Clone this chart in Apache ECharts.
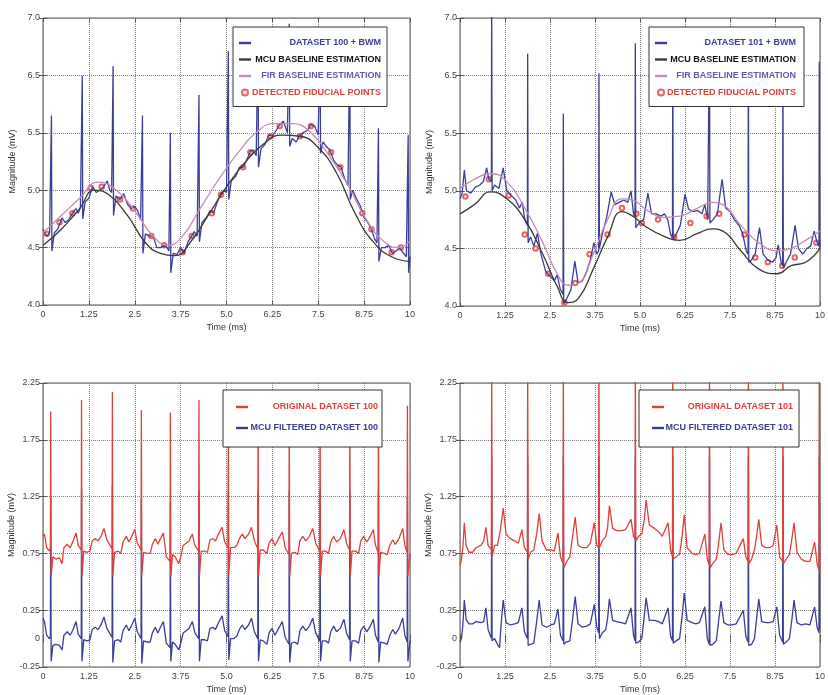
<!DOCTYPE html>
<html>
<head>
<meta charset="utf-8">
<script src="https://cdn.jsdelivr.net/npm/echarts@6/dist/echarts.min.js"></script>
<style>
  html, body { margin: 0; padding: 0; background: #fff; }
  #chart { width: 828px; height: 695px; }
</style>
</head>
<body>
<div id="chart"></div>
<script>
// tick labels
const X_LABELS = ['0', '1.25', '2.5', '3.75', '5.0', '6.25', '7.5', '8.75', '10']
// top plots: printed labels skip 6.0 (as in the figure)
const TOP_Y_LABELS = ['4.0', '4.5', '5.0', '5.5', '6.5', '7.0']
const BOTTOM_Y_LABELS = ['-0.25', '0.25', '0.75', '1.25', '1.75', '2.25']

/// dataset 100 + BWM (top left) ///
const TL_SIGNAL = [
  [0,4.66],[0.06,4.62],[0.12,4.6],[0.18,4.63],[0.222,4.63],
  [0.23,5.65],[0.242,4.47],[0.31,4.63],[0.4,4.66],[0.52,4.76],[0.6,4.72],[0.7,4.74],[0.8,4.8],[0.9,4.84],[0.96,4.8],[1.02,4.85],[1.062,4.85],
  [1.07,6.0],[1.082,4.75],[1.15,4.9],[1.25,4.93],[1.35,5.03],[1.45,4.98],[1.55,5.0],[1.65,5.03],[1.75,5.08],[1.82,5.0],[1.87,4.98],[1.902,4.98],
  [1.91,6.08],[1.922,4.78],[1.99,4.95],[2.1,4.92],[2.2,4.97],[2.3,4.88],[2.4,4.84],[2.5,4.86],[2.58,4.82],[2.66,4.74],[2.702,4.74],
  [2.71,5.65],[2.722,4.45],[2.79,4.62],[2.9,4.6],[3.0,4.6],[3.1,4.5],[3.2,4.5],[3.3,4.52],[3.38,4.5],[3.43,4.47],[3.462,4.47],
  [3.47,5.5],[3.482,4.28],[3.55,4.45],[3.65,4.44],[3.75,4.5],[3.85,4.45],[3.95,4.55],[4.05,4.6],[4.12,4.64],[4.2,4.6],[4.242,4.6],
  [4.25,5.83],[4.262,4.55],[4.33,4.72],[4.45,4.76],[4.55,4.82],[4.65,4.8],[4.75,4.9],[4.85,4.97],[4.93,5.0],[5.0,4.98],[5.042,4.98],
  [5.05,6.21],[5.062,4.92],[5.13,5.08],[5.25,5.12],[5.35,5.2],[5.45,5.2],[5.55,5.26],[5.65,5.34],[5.73,5.35],[5.81,5.3],[5.852,5.3],
  [5.86,6.38],[5.872,5.2],[5.94,5.36],[6.05,5.4],[6.15,5.48],[6.25,5.47],[6.35,5.52],[6.45,5.57],[6.55,5.6],[6.66,5.5],[6.702,5.5],
  [6.71,6.45],[6.722,5.38],[6.79,5.45],[6.9,5.42],[6.98,5.47],[7.08,5.5],[7.2,5.52],[7.3,5.57],[7.4,5.56],[7.5,5.48],[7.542,5.48],
  [7.55,6.4],[7.562,5.32],[7.63,5.42],[7.72,5.38],[7.82,5.35],[7.92,5.26],[8.02,5.22],[8.12,5.2],[8.22,5.1],[8.31,5.04],[8.352,5.04],
  [8.36,6.3],[8.372,4.92],[8.44,5.0],[8.55,4.92],[8.65,4.86],[8.75,4.76],[8.85,4.72],[8.95,4.66],[9.03,4.58],[9.1,4.54],[9.132,4.54],
  [9.14,5.54],[9.152,4.38],[9.22,4.5],[9.32,4.5],[9.42,4.52],[9.52,4.45],[9.62,4.47],[9.72,4.5],[9.8,4.46],[9.9,4.42],[9.942,4.42],
  [9.95,5.48],[9.962,4.28],[10,4.42]
]
const TL_MCU = [
  [0,4.52],[0.5,4.66],[1.0,4.84],[1.4,5.0],[1.8,4.96],[2.3,4.78],[2.8,4.54],[3.2,4.45],[3.6,4.43],[4.0,4.54],[4.5,4.78],
  [5.0,5.03],[5.5,5.24],[6.0,5.4],[6.5,5.48],[7.0,5.47],[7.5,5.37],[8.0,5.15],[8.5,4.8],[9.0,4.55],[9.5,4.42],[10,4.38]
]
const TL_FIR = [
  [0,4.63],[0.5,4.78],[1.0,4.93],[1.5,5.07],[2.0,5.0],[2.5,4.82],[3.0,4.6],[3.4,4.52],[3.8,4.6],[4.3,4.85],[4.8,5.1],
  [5.3,5.32],[5.8,5.5],[6.3,5.58],[6.8,5.58],[7.3,5.5],[7.8,5.3],[8.3,5.05],[8.8,4.75],[9.3,4.55],[9.7,4.5],[10,4.56]
]
const TL_FIDUCIAL = [
  [0.1,4.62],[0.45,4.72],[0.8,4.8],[1.3,5.02],[1.6,5.03],[2.1,4.92],[2.45,4.84],[2.95,4.6],[3.3,4.52],[3.8,4.46],
  [4.05,4.6],[4.6,4.8],[4.85,4.96],[5.45,5.2],[5.65,5.33],[6.2,5.47],[6.45,5.56],[7.0,5.47],[7.3,5.56],[7.85,5.33],
  [8.1,5.2],[8.7,4.8],[8.95,4.66],[9.5,4.46],[9.75,4.5]
]

/// dataset 101 + BWM (top right) ///
const TR_SIGNAL = [
  [0,4.93],[0.06,4.98],[0.12,5.18],[0.18,5.0],[0.3,4.98],[0.42,5.03],[0.55,5.05],[0.65,5.08],[0.74,5.2],[0.8,5.1],[0.872,5.08],
  [0.88,6.7],[0.892,5.0],[0.96,5.05],[1.08,5.02],[1.2,5.2],[1.3,5.0],[1.42,4.96],[1.55,4.92],[1.65,4.85],[1.73,4.9],[1.8,4.75],[1.872,4.7],
  [1.88,6.19],[1.892,4.55],[1.96,4.6],[2.05,4.52],[2.15,4.63],[2.25,4.45],[2.38,4.3],[2.5,4.26],[2.62,4.22],[2.7,4.27],[2.78,4.15],[2.862,4.1],
  [2.87,5.67],[2.882,4.02],[2.96,4.06],[3.08,4.14],[3.19,4.39],[3.28,4.2],[3.4,4.22],[3.52,4.3],[3.62,4.4],[3.72,4.55],[3.8,4.45],[3.852,4.48],
  [3.86,6.02],[3.872,4.5],[3.95,4.62],[4.08,4.78],[4.2,4.99],[4.3,4.88],[4.42,4.9],[4.55,4.92],[4.66,4.9],[4.75,5.0],[4.82,4.8],[4.862,4.78],
  [4.87,6.28],[4.882,4.68],[4.97,4.72],[5.1,4.75],[5.22,4.98],[5.32,4.8],[5.45,4.8],[5.58,4.78],[5.68,4.8],[5.77,4.75],[5.85,4.62],[5.902,4.6],
  [5.91,6.4],[5.922,4.58],[6.0,4.62],[6.12,4.7],[6.25,4.97],[6.35,4.84],[6.48,4.82],[6.6,4.83],[6.72,4.8],[6.8,4.88],[6.88,4.75],[6.922,4.74],
  [6.93,6.4],[6.942,4.72],[7.03,4.75],[7.15,4.8],[7.28,5.1],[7.38,4.85],[7.5,4.82],[7.62,4.75],[7.75,4.7],[7.85,4.63],[7.95,4.48],[8.002,4.45],
  [8.01,6.4],[8.022,4.38],[8.1,4.4],[8.2,4.45],[8.32,4.68],[8.42,4.45],[8.55,4.4],[8.68,4.38],[8.78,4.42],[8.84,4.53],[8.92,4.38],[8.962,4.35],
  [8.97,6.3],[8.982,4.33],[9.06,4.38],[9.18,4.45],[9.31,4.7],[9.4,4.5],[9.52,4.45],[9.64,4.5],[9.74,4.52],[9.84,4.65],[9.92,4.55],[9.972,4.52],
  [9.98,6.12],[9.992,4.5],[10,4.55]
]
const TR_MCU = [
  [0,4.8],[0.4,4.88],[0.85,4.99],[1.3,4.93],[1.8,4.75],[2.3,4.45],[2.7,4.17],[3.0,4.03],[3.3,4.07],[3.7,4.32],[4.1,4.6],
  [4.5,4.82],[4.8,4.78],[5.2,4.68],[5.7,4.6],[6.1,4.57],[6.6,4.63],[7.0,4.67],[7.3,4.65],[7.8,4.48],[8.3,4.32],[8.8,4.28],
  [9.2,4.35],[9.6,4.38],[10,4.5]
]
const TR_FIR = [
  [0,5.02],[0.4,5.1],[0.85,5.15],[1.3,5.08],[1.8,4.85],[2.3,4.55],[2.7,4.28],[3.0,4.18],[3.3,4.2],[3.7,4.45],[4.1,4.75],
  [4.5,4.93],[4.8,4.92],[5.2,4.83],[5.7,4.77],[6.1,4.78],[6.6,4.85],[7.0,4.9],[7.3,4.88],[7.8,4.7],[8.3,4.55],[8.8,4.48],
  [9.2,4.5],[9.6,4.57],[10,4.65]
]
const TR_FIDUCIAL = [
  [0.15,4.95],[0.8,5.1],[1.35,4.96],[1.8,4.62],[2.1,4.5],[2.45,4.28],[2.9,4.03],[3.2,4.2],[3.6,4.45],[4.1,4.62],
  [4.5,4.85],[4.9,4.8],[5.05,4.72],[5.5,4.75],[5.95,4.6],[6.4,4.72],[6.85,4.78],[7.2,4.8],[7.9,4.62],[8.2,4.42],
  [8.55,4.38],[8.95,4.35],[9.3,4.42],[9.9,4.55]
]

/// dataset 100 original / filtered (bottom left) ///
const BL_ORIGINAL = [
  [0,0.9],[0.04,0.92],[0.1,0.8],[0.17,0.77],[0.202,0.8],
  [0.21,2.0],[0.222,0.55],[0.27,0.72],[0.35,0.7],[0.45,0.71],[0.52,0.66],[0.57,0.8],[0.66,0.83],[0.74,0.8],[0.82,0.86],[0.9,0.93],[0.96,0.82],[1.042,0.78],
  [1.05,2.1],[1.062,0.55],[1.11,0.77],[1.2,0.76],[1.28,0.77],[1.34,0.86],[1.42,0.88],[1.5,0.86],[1.58,0.9],[1.66,0.97],[1.74,0.87],[1.882,0.79],
  [1.89,2.17],[1.902,0.55],[1.95,0.76],[2.05,0.77],[2.12,0.75],[2.18,0.85],[2.27,0.9],[2.34,0.85],[2.42,0.9],[2.5,0.96],[2.57,0.84],[2.672,0.78],
  [2.68,2.01],[2.692,0.56],[2.74,0.76],[2.84,0.75],[2.92,0.75],[2.98,0.83],[3.06,0.88],[3.13,0.83],[3.2,0.88],[3.28,0.93],[3.36,0.72],[3.462,0.68],
  [3.47,1.99],[3.482,0.55],[3.53,0.74],[3.6,0.72],[3.7,0.66],[3.76,0.73],[3.82,0.82],[3.9,0.84],[3.98,0.86],[4.07,0.92],[4.14,0.82],[4.242,0.77],
  [4.25,2.1],[4.262,0.55],[4.31,0.77],[4.4,0.77],[4.48,0.76],[4.55,0.87],[4.63,0.88],[4.7,0.86],[4.78,0.92],[4.88,0.98],[4.95,0.85],[5.042,0.8],
  [5.05,2.12],[5.062,0.56],[5.11,0.8],[5.2,0.8],[5.28,0.82],[5.35,0.88],[5.43,0.92],[5.5,0.88],[5.6,0.92],[5.68,0.98],[5.76,0.86],[5.852,0.79],
  [5.86,2.1],[5.872,0.55],[5.92,0.78],[6.0,0.78],[6.1,0.75],[6.16,0.84],[6.24,0.88],[6.32,0.82],[6.42,0.88],[6.52,0.94],[6.6,0.8],[6.702,0.74],
  [6.71,2.12],[6.722,0.55],[6.77,0.75],[6.86,0.76],[6.94,0.74],[7.0,0.86],[7.08,0.9],[7.16,0.86],[7.26,0.9],[7.35,0.97],[7.43,0.84],[7.542,0.77],
  [7.55,2.1],[7.562,0.55],[7.61,0.77],[7.7,0.77],[7.78,0.75],[7.84,0.85],[7.92,0.9],[8.0,0.85],[8.1,0.88],[8.2,0.96],[8.27,0.84],[8.352,0.78],
  [8.36,2.08],[8.372,0.55],[8.42,0.77],[8.52,0.77],[8.6,0.75],[8.66,0.86],[8.74,0.9],[8.82,0.85],[8.92,0.9],[9.0,0.96],[9.06,0.82],[9.132,0.76],
  [9.14,2.1],[9.152,0.55],[9.2,0.76],[9.3,0.75],[9.38,0.74],[9.45,0.82],[9.53,0.87],[9.6,0.83],[9.7,0.88],[9.8,0.97],[9.86,0.82],[9.922,0.76],
  [9.93,2.05],[9.942,0.55],[10,0.75]
]
const BL_FILTERED = [
  [0,0.18],[0.04,0.15],[0.1,0.03],[0.17,0.0],[0.202,0.02],
  [0.21,1.25],[0.222,-0.2],[0.27,-0.06],[0.35,-0.05],[0.45,-0.06],[0.52,-0.1],[0.57,0.03],[0.66,0.06],[0.74,0.03],[0.82,0.08],[0.9,0.15],[0.96,0.04],[1.042,0.0],
  [1.05,1.3],[1.062,-0.2],[1.11,-0.01],[1.2,-0.02],[1.28,-0.01],[1.34,0.08],[1.42,0.1],[1.5,0.08],[1.58,0.12],[1.66,0.19],[1.74,0.09],[1.882,0.01],
  [1.89,1.35],[1.902,-0.21],[1.95,-0.02],[2.05,-0.01],[2.12,-0.03],[2.18,0.07],[2.27,0.12],[2.34,0.07],[2.42,0.12],[2.5,0.18],[2.57,0.06],[2.672,0.0],
  [2.68,1.22],[2.692,-0.22],[2.74,-0.02],[2.84,-0.03],[2.92,-0.03],[2.98,0.05],[3.06,0.1],[3.13,0.05],[3.2,0.1],[3.28,0.15],[3.36,-0.04],[3.462,-0.08],
  [3.47,1.2],[3.482,-0.2],[3.53,-0.03],[3.6,-0.05],[3.7,-0.1],[3.76,-0.03],[3.82,0.05],[3.9,0.07],[3.98,0.09],[4.07,0.15],[4.14,0.05],[4.242,0.0],
  [4.25,1.3],[4.262,-0.2],[4.31,-0.01],[4.4,-0.01],[4.48,-0.02],[4.55,0.09],[4.63,0.1],[4.7,0.08],[4.78,0.14],[4.88,0.2],[4.95,0.07],[5.042,0.02],
  [5.05,1.3],[5.062,-0.19],[5.11,0.0],[5.2,0.0],[5.28,0.02],[5.35,0.08],[5.43,0.12],[5.5,0.08],[5.6,0.12],[5.68,0.18],[5.76,0.06],[5.852,0.0],
  [5.86,1.3],[5.872,-0.2],[5.92,-0.01],[6.0,-0.02],[6.1,-0.05],[6.16,0.05],[6.24,0.09],[6.32,0.03],[6.42,0.09],[6.52,0.15],[6.6,0.01],[6.702,-0.05],
  [6.71,1.3],[6.722,-0.21],[6.77,-0.04],[6.86,-0.03],[6.94,-0.05],[7.0,0.07],[7.08,0.11],[7.16,0.07],[7.26,0.11],[7.35,0.18],[7.43,0.05],[7.542,-0.02],
  [7.55,1.3],[7.562,-0.2],[7.61,-0.02],[7.7,-0.02],[7.78,-0.04],[7.84,0.06],[7.92,0.11],[8.0,0.06],[8.1,0.09],[8.2,0.17],[8.27,0.05],[8.352,-0.01],
  [8.36,1.28],[8.372,-0.2],[8.42,-0.02],[8.52,-0.02],[8.6,-0.04],[8.66,0.07],[8.74,0.11],[8.82,0.06],[8.92,0.11],[9.0,0.17],[9.06,0.03],[9.132,-0.03],
  [9.14,1.3],[9.152,-0.21],[9.2,-0.03],[9.3,-0.04],[9.38,-0.05],[9.45,0.03],[9.53,0.08],[9.6,0.04],[9.7,0.09],[9.8,0.18],[9.86,0.03],[9.922,-0.03],
  [9.93,1.25],[9.942,-0.2],[10,-0.02]
]

/// dataset 101 original / filtered (bottom right) ///
const BR_ORIGINAL = [
  [0,0.64],[0.04,0.7],[0.08,0.8],[0.12,1.02],[0.17,0.82],[0.25,0.76],[0.35,0.76],[0.45,0.8],[0.58,0.82],[0.66,0.86],[0.72,0.98],[0.78,0.82],[0.872,0.78],
  [0.88,2.6],[0.892,0.72],[0.96,0.82],[1.04,0.82],[1.12,0.95],[1.2,1.15],[1.28,0.92],[1.4,0.88],[1.52,0.86],[1.62,0.84],[1.72,0.96],[1.79,0.8],[1.872,0.76],
  [1.88,2.6],[1.892,0.7],[1.96,0.76],[2.05,0.78],[2.13,0.92],[2.2,1.1],[2.28,0.86],[2.4,0.78],[2.52,0.78],[2.62,0.77],[2.72,0.93],[2.79,0.72],[2.862,0.66],
  [2.87,2.6],[2.882,0.62],[2.95,0.67],[3.05,0.72],[3.12,0.88],[3.2,1.07],[3.28,0.82],[3.4,0.8],[3.52,0.8],[3.62,0.84],[3.73,1.02],[3.8,0.82],[3.852,0.8],
  [3.86,2.6],[3.872,0.8],[3.95,0.86],[4.05,0.9],[4.1,0.98],[4.15,1.17],[4.24,0.97],[4.35,0.95],[4.48,0.95],[4.6,0.96],[4.75,1.05],[4.82,0.9],[4.862,0.88],
  [4.87,2.6],[4.882,0.86],[4.96,0.9],[5.05,0.92],[5.12,1.05],[5.17,1.22],[5.26,1.0],[5.4,0.97],[5.52,0.94],[5.62,0.9],[5.78,1.02],[5.85,0.78],[5.902,0.72],
  [5.91,2.6],[5.922,0.7],[6.0,0.72],[6.1,0.74],[6.17,0.9],[6.23,1.09],[6.31,0.8],[6.45,0.75],[6.55,0.74],[6.65,0.75],[6.8,0.92],[6.87,0.7],[6.922,0.65],
  [6.93,2.6],[6.942,0.62],[7.02,0.66],[7.12,0.7],[7.19,0.85],[7.25,1.02],[7.33,0.78],[7.45,0.74],[7.55,0.74],[7.67,0.75],[7.87,0.88],[7.94,0.72],[8.002,0.68],
  [8.01,2.6],[8.022,0.66],[8.1,0.7],[8.18,0.78],[8.24,0.9],[8.3,1.05],[8.38,0.82],[8.5,0.8],[8.6,0.8],[8.7,0.82],[8.8,1.0],[8.88,0.72],[8.962,0.68],
  [8.97,2.6],[8.982,0.66],[9.06,0.7],[9.15,0.74],[9.22,0.88],[9.28,1.02],[9.36,0.76],[9.48,0.7],[9.6,0.68],[9.72,0.68],[9.85,0.85],[9.92,0.66],[9.972,0.6],
  [9.98,2.6],[9.992,0.6],[10,0.58]
]
const BR_FILTERED = [
  [0,-0.03],[0.04,0.0],[0.08,0.12],[0.12,0.34],[0.17,0.17],[0.25,0.13],[0.35,0.13],[0.45,0.15],[0.58,0.14],[0.66,0.15],[0.72,0.27],[0.78,0.08],[0.872,0.0],
  [0.88,1.6],[0.892,-0.02],[0.96,0.0],[1.04,-0.05],[1.1,-0.08],[1.14,0.12],[1.2,0.34],[1.28,0.14],[1.4,0.12],[1.52,0.13],[1.62,0.14],[1.72,0.27],[1.79,0.06],[1.872,0.0],
  [1.88,1.6],[1.892,-0.06],[1.96,-0.05],[2.05,-0.04],[2.13,0.15],[2.2,0.34],[2.28,0.12],[2.4,0.1],[2.52,0.12],[2.62,0.13],[2.72,0.26],[2.79,0.03],[2.862,-0.02],
  [2.87,1.6],[2.882,-0.05],[2.95,-0.03],[3.05,-0.02],[3.12,0.15],[3.2,0.37],[3.28,0.13],[3.4,0.1],[3.52,0.11],[3.62,0.13],[3.73,0.3],[3.8,0.1],[3.852,0.05],
  [3.86,1.6],[3.872,0.0],[3.95,0.05],[4.05,0.08],[4.1,0.18],[4.15,0.35],[4.24,0.16],[4.35,0.15],[4.48,0.14],[4.6,0.13],[4.75,0.27],[4.82,0.03],[4.862,-0.02],
  [4.87,1.6],[4.882,-0.04],[4.96,-0.03],[5.05,0.0],[5.12,0.2],[5.17,0.36],[5.26,0.16],[5.4,0.16],[5.52,0.15],[5.62,0.13],[5.78,0.27],[5.85,0.02],[5.902,-0.02],
  [5.91,1.6],[5.922,-0.04],[6.0,-0.02],[6.1,0.0],[6.17,0.2],[6.23,0.4],[6.31,0.16],[6.45,0.14],[6.55,0.13],[6.65,0.14],[6.8,0.28],[6.87,0.0],[6.922,-0.05],
  [6.93,1.6],[6.942,-0.06],[7.02,-0.05],[7.12,-0.02],[7.19,0.17],[7.25,0.33],[7.33,0.14],[7.45,0.12],[7.55,0.12],[7.67,0.13],[7.87,0.25],[7.94,0.02],[8.002,-0.03],
  [8.01,1.6],[8.022,-0.06],[8.1,-0.05],[8.18,0.0],[8.24,0.18],[8.3,0.35],[8.38,0.15],[8.5,0.14],[8.6,0.14],[8.7,0.15],[8.8,0.28],[8.88,0.03],[8.962,-0.03],
  [8.97,1.6],[8.982,-0.05],[9.06,-0.03],[9.15,0.0],[9.22,0.17],[9.28,0.34],[9.36,0.14],[9.48,0.12],[9.6,0.13],[9.72,0.12],[9.85,0.28],[9.92,0.1],[9.972,0.05],
  [9.98,1.6],[9.992,0.08],[10,0.1]
]

const FONT = '"Liberation Sans Narrow", "Liberation Sans", sans-serif'
const C_BLUE = '#3b3e98'
const C_RED = '#e0403a'
const C_MCU = '#3a3a36'
const C_FIR = '#c68bbb'
const C_FIR_TEXT = '#6a55a8'
const C_AXIS = '#555'
// short thick dash for the legend (path bbox is 14x6)
const LINE_ICON = 'path://M0,0M1,1.8L13,1.8L13,4.2L1,4.2ZM14,6'

const GRIDS = [
  { left: 43, top: 18, width: 367, height: 287 },
  { left: 460, top: 18, width: 365, height: 288 },
  { left: 43, top: 383, width: 367, height: 285 },
  { left: 460, top: 383, width: 365, height: 285 },
]

const labelStyle = { fontFamily: FONT, fontSize: 9, color: '#444' }
const tickStyle = { show: true, inside: true, length: 4, lineStyle: { color: C_AXIS } }
const gridLine = { show: true, lineStyle: { type: 'dotted', color: '#808080', width: 1 } }

const xAxis = []
const yAxis = []
GRIDS.forEach((g, i) => {
  const top = i < 2
  xAxis.push({
    gridIndex: i, type: 'value', min: 0, max: 10, interval: 1.25,
    axisLine: { show: false }, axisTick: tickStyle, splitLine: gridLine,
    axisLabel: { ...labelStyle, margin: 5, formatter: (v, idx) => X_LABELS[idx] },
    name: 'Time (ms)', nameLocation: 'middle', nameGap: 18,
    nameTextStyle: { fontFamily: FONT, fontSize: 9, color: '#333' },
  })
  xAxis.push({
    gridIndex: i, type: 'value', position: 'top', min: 0, max: 10, interval: 1.25,
    axisLine: { show: false }, axisTick: tickStyle, axisLabel: { show: false }, splitLine: { show: false },
  })
  const yRange = top ? { min: 4.0, max: 6.5, interval: 0.5 } : { min: -0.25, max: 2.25, interval: 0.5 }
  const yLabels = top ? TOP_Y_LABELS : BOTTOM_Y_LABELS
  yAxis.push({
    gridIndex: i, type: 'value', ...yRange,
    axisLine: { show: false }, axisTick: tickStyle, splitLine: gridLine,
    axisLabel: { ...labelStyle, margin: 3, formatter: (v, idx) => yLabels[idx] },
    name: 'Magnitude (mV)', nameLocation: 'middle', nameGap: 26,
    nameTextStyle: { fontFamily: FONT, fontSize: 9, color: '#333' },
  })
  yAxis.push({
    gridIndex: i, type: 'value', position: 'right', ...yRange,
    axisLine: { show: false }, axisTick: tickStyle, axisLabel: { show: false }, splitLine: { show: false },
  })
  if (!top) {
    // extra "0" label of the bottom plots
    yAxis.push({
      gridIndex: i, type: 'value', position: 'left', min: -0.25, max: 2.25, interval: 0.25,
      axisLine: { show: false }, axisTick: { show: false }, splitLine: { show: false },
      axisLabel: { ...labelStyle, margin: 3, formatter: (v) => (Math.abs(v) < 1e-9 ? '0' : '') },
    })
  }
})

// yAxis indexes: grid0 -> 0, grid1 -> 2, grid2 -> 4, grid3 -> 7
const Y_IDX = [0, 2, 4, 7]

function line(name, data, grid, color, smooth) {
  return {
    type: 'line', name, data, xAxisIndex: grid * 2, yAxisIndex: Y_IDX[grid],
    showSymbol: false, symbol: 'none', smooth: smooth ? 0.5 : false, animation: false,
    lineStyle: { color, width: 1.3 }, itemStyle: { color },
  }
}

function points(name, data, grid) {
  return {
    type: 'scatter', name, data, xAxisIndex: grid * 2, yAxisIndex: Y_IDX[grid],
    symbol: 'emptyCircle', symbolSize: 4.5, animation: false,
    itemStyle: { color: C_RED, borderColor: C_RED, borderWidth: 0.8 },
  }
}

function legend(items, box, textWidth, gap) {
  return {
    orient: 'vertical', left: box.left, top: box.top,
    padding: box.padding, itemGap: gap, itemWidth: 14, itemHeight: 6,
    backgroundColor: '#fff', borderColor: '#333', borderWidth: 1, borderRadius: 0,
    selectedMode: false,
    data: items.map((it) => ({ name: it[0], icon: it[2] || LINE_ICON, textStyle: { color: it[1] } })),
    formatter: '{t|{name}}',
    textStyle: {
      fontFamily: FONT, fontSize: 9, fontWeight: 'bold', lineHeight: 10,
      rich: { t: { width: textWidth, align: 'right', fontFamily: FONT, fontSize: 9, fontWeight: 'bold' } },
    },
  }
}

const chart = echarts.init(document.getElementById('chart'), null, { renderer: 'canvas' })
chart.setOption({
  backgroundColor: '#fff',
  animation: false,
  grid: GRIDS.map((g) => ({ ...g, show: true, borderColor: C_AXIS, borderWidth: 1, backgroundColor: '#fff' })),
  xAxis,
  yAxis,
  legend: [
    legend([['DATASET 100 + BWM', C_BLUE], ['MCU BASELINE ESTIMATION', '#111'], ['FIR BASELINE ESTIMATION', C_FIR_TEXT], ['DETECTED FIDUCIAL POINTS', C_RED, 'emptyCircle']],
      { left: 233, top: 27, padding: [11, 6, 9, 5] }, 124, 6.5),
    legend([['DATASET 101 + BWM', C_BLUE], ['MCU BASELINE ESTIMATION', '#111'], ['FIR BASELINE ESTIMATION', C_FIR_TEXT], ['DETECTED FIDUCIAL POINTS', C_RED, 'emptyCircle']],
      { left: 649, top: 27, padding: [11, 8, 9, 5] }, 123, 6.5),
    legend([['ORIGINAL DATASET 100', C_RED], ['MCU FILTERED DATASET 100', C_BLUE]],
      { left: 223, top: 390, padding: [12, 4, 14, 12] }, 124, 11),
    legend([['ORIGINAL DATASET 101', C_RED], ['MCU FILTERED DATASET 101', C_BLUE]],
      { left: 639, top: 390, padding: [12, 6, 14, 12] }, 123, 11),
  ],
  series: [
    line('DATASET 100 + BWM', TL_SIGNAL, 0, C_BLUE),
    line('MCU BASELINE ESTIMATION', TL_MCU, 0, C_MCU, true),
    line('FIR BASELINE ESTIMATION', TL_FIR, 0, C_FIR, true),
    points('DETECTED FIDUCIAL POINTS', TL_FIDUCIAL, 0),

    line('DATASET 101 + BWM', TR_SIGNAL, 1, C_BLUE),
    line('MCU BASELINE ESTIMATION', TR_MCU, 1, C_MCU, true),
    line('FIR BASELINE ESTIMATION', TR_FIR, 1, C_FIR, true),
    points('DETECTED FIDUCIAL POINTS', TR_FIDUCIAL, 1),

    line('MCU FILTERED DATASET 100', BL_FILTERED, 2, C_BLUE),
    line('ORIGINAL DATASET 100', BL_ORIGINAL, 2, C_RED),

    line('MCU FILTERED DATASET 101', BR_FILTERED, 3, C_BLUE),
    line('ORIGINAL DATASET 101', BR_ORIGINAL, 3, C_RED),
  ],
})
</script>
</body>
</html>
